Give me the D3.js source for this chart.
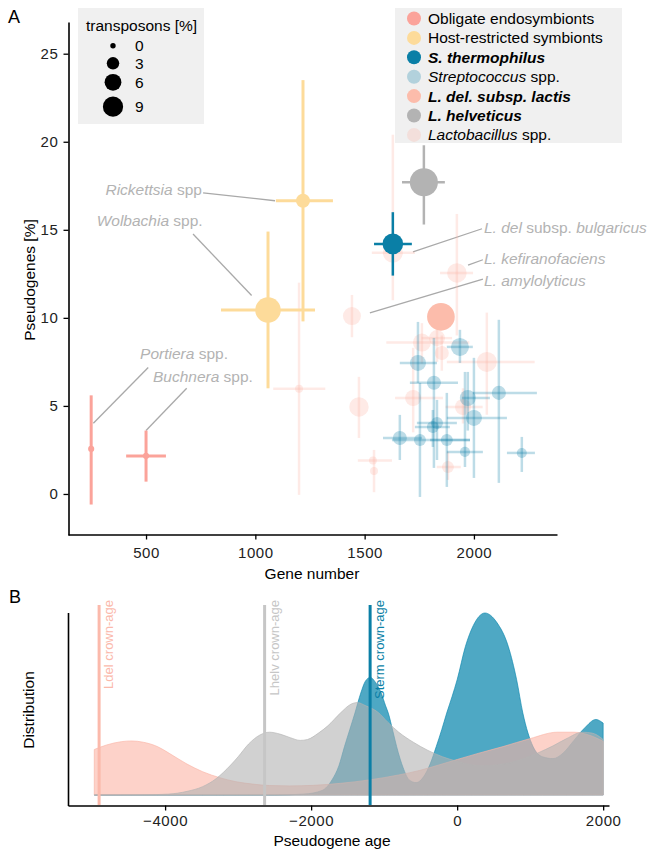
<!DOCTYPE html>
<html>
<head>
<meta charset="utf-8">
<script src="https://cdn.jsdelivr.net/npm/d3@7"></script>
<style>
  body { margin: 0; background: #fff; }
  svg text { font-family: "Liberation Sans", Arial, Helvetica, sans-serif; }
</style>
</head>
<body>
<svg id="chart" width="654" height="852"></svg>
<script>
// ---- panel A data ----
var groupNames = ["Obligate endosymbionts", "Host-restricted symbionts", "S. thermophilus",
  "Streptococcus spp.", "L. del. subsp. lactis", "L. helveticus", "Lactobacillus spp."];
var groupColors = ["#fba39a", "#fddb9a", "#0a7fa6", "#0a7fa6", "#fcbcab", "#b3b3b3", "#fbb4a5"];
var groupAlpha = [1, 1, 1, 0.27, 1, 1, 0.28];
var drawOrder = [6, 3, 0, 1, 4, 2, 5];

// one entry per genome / clade
var pointGroup = [0, 0, 1, 1, 2, 4, 5,
  6, 6, 6, 6, 6, 6, 6, 6, 6, 6, 6, 6, 6, 6,
  3, 3, 3, 3, 3, 3, 3, 3, 3, 3, 3, 3, 3];
var geneNumber = [249, 500, 1218, 1058, 1629, 1849, 1771,
  1629, 1922, 1442, 1474, 1538, 1543, 2059, 1762, 1722, 1950, 1881, 1200, 1831, 1853,
  1936, 1744, 1817, 2114, 1972, 2000, 1831, 1812, 1661, 1753, 1876, 1959, 2219];
var geneLow = [249, 409, 1094, 843, 1543, 1849, 1671,
  1533, 1845, 1442, 1474, 1469, 1543, 1876, 1599, 1639, 1870, 1830, 1082, 1760, 1853,
  1876, 1661, 1707, 1995, 1945, 1876, 1739, 1730, 1584, 1625, 1799, 1876, 2151];
var geneHigh = [249, 591, 1355, 1273, 1716, 1849, 1867,
  1730, 1996, 1442, 1474, 1625, 1543, 2278, 1979, 1858, 2040, 1940, 1320, 1900, 1853,
  1995, 1831, 1927, 2288, 2073, 2151, 1922, 1890, 1762, 1982, 1982, 2041, 2279];
var pseudogenes = [2.56, 2.16, 16.65, 10.45, 14.2, 10.06, 17.7,
  13.7, 12.55, 10.1, 4.94, 1.9, 1.3, 7.5, 8.6, 5.45, 4.94, 1.53, 5.97, 8.85, 8.0,
  8.35, 7.44, 6.31, 5.74, 5.45, 4.32, 4.03, 3.8, 3.18, 3.07, 3.07, 2.39, 2.33];
var pseudoLow = [-0.6, 0.7, 9.8, 6.0, 12.4, 10.06, 15.3,
  11.0, 9.0, 8.9, 3.18, 1.9, 0.1, 4.5, 7.4, 3.5, 4.0, 0.8, -0.05, 7.5, 7.0,
  7.44, 6.31, 1.48, 0.63, 3.6, 0.91, 1.93, 2.67, 1.93, -0.17, 0.4, 1.53, 1.25];
var pseudoHigh = [5.6, 3.6, 23.5, 14.9, 16.0, 10.06, 19.8,
  20.4, 15.9, 11.3, 6.65, 1.9, 2.5, 10.3, 9.7, 8.3, 6.0, 2.4, 12.0, 10.5, 9.0,
  9.32, 9.77, 8.86, 9.89, 6.93, 7.73, 5.34, 4.77, 4.49, 6.31, 5.74, 6.93, 3.24];
var transposons = [0.2, 0.2, 4, 14.8, 9.4, 17.5, 18,
  8.8, 8.3, 7, 8.3, 0.8, 0.8, 8.8, 7, 5.4, 5.4, 2.7, 0.8, 5.4, 4,
  7, 5.4, 4, 4, 5.4, 5.4, 2.7, 2.7, 4, 2.7, 2.7, 1.7, 1.7];
var sizeBreaks = [0, 3, 6, 9];
var geneTicks = [500, 1000, 1500, 2000];
var pseudoTicks = [0, 5, 10, 15, 20, 25];

// labelled taxa (text pieces: [text, italic])
var labelText = [
  [["Rickettsia", 1], [" spp", 0]],
  [["Wolbachia", 1], [" spp.", 0]],
  [["Portiera", 1], [" spp.", 0]],
  [["Buchnera", 1], [" spp.", 0]],
  [["L. del", 1], [" subsp. ", 0], ["bulgaricus", 1]],
  [["L. kefiranofaciens", 1]],
  [["L. amylolyticus", 1]]
];
var labelGene = [756, 759, 875, 989, 2046, 2046, 2046];
var labelPseudo = [16.96, 15.2, 7.67, 6.36, 14.8, 13.04, 11.8];
var labelAnchor = ["end", "end", "end", "end", "start", "start", "start"];
var segFrom = [[761, 17.1], [715, 14.76], [510, 7.18], [686, 6.0], [2037, 15.06], [2041, 13.3], [2041, 12.2]];
var segTo = [[1090, 16.65], [983, 11.27], [259, 4.02], [500, 3.6], [1721, 13.75], [1973, 13.0], [1524, 10.28]];

// ---- panel B data (density) ----
var ageTicks = [-4000, -2000, 0, 2000];
var ldelDensity = [[-4970, 0.25], [-4800, 0.275], [-4600, 0.293], [-4457, 0.297], [-4300, 0.29], [-4100, 0.265],
  [-3943, 0.229], [-3700, 0.17], [-3486, 0.128], [-3250, 0.095], [-3029, 0.073], [-2800, 0.06], [-2571, 0.052],
  [-2300, 0.05], [-1971, 0.053], [-1600, 0.064], [-1200, 0.083], [-800, 0.11], [-514, 0.135], [-250, 0.165],
  [0, 0.195], [300, 0.23], [629, 0.266], [1000, 0.31], [1371, 0.345], [1600, 0.345], [1800, 0.33], [2000, 0.295]];
var lhelvDensity = [[-4970, 0], [-4300, 0.001], [-3950, 0.005], [-3700, 0.02], [-3486, 0.046], [-3300, 0.09],
  [-3200, 0.125], [-3000, 0.21], [-2857, 0.28], [-2700, 0.33], [-2571, 0.345], [-2430, 0.335], [-2286, 0.315],
  [-2150, 0.3], [-2050, 0.305], [-1900, 0.34], [-1771, 0.38], [-1600, 0.45], [-1450, 0.5], [-1371, 0.508],
  [-1250, 0.49], [-1086, 0.455], [-950, 0.4], [-800, 0.345], [-600, 0.29], [-400, 0.245], [-200, 0.21],
  [0, 0.185], [200, 0.165], [343, 0.16], [550, 0.165], [750, 0.18], [914, 0.2], [1100, 0.23], [1314, 0.27],
  [1500, 0.31], [1714, 0.345], [1850, 0.34], [2000, 0.305]];
var stermDensity = [[-4970, 0], [-2500, 0], [-2100, 0.005], [-1850, 0.025], [-1714, 0.083], [-1620, 0.16],
  [-1543, 0.266], [-1470, 0.36], [-1400, 0.45], [-1320, 0.56], [-1257, 0.625], [-1190, 0.646], [-1120, 0.62],
  [-1040, 0.56], [-980, 0.49], [-943, 0.45], [-880, 0.35], [-829, 0.266], [-740, 0.15], [-657, 0.083],
  [-560, 0.068], [-460, 0.1], [-370, 0.17], [-286, 0.266], [-210, 0.36], [-143, 0.45], [-70, 0.54], [0, 0.633],
  [114, 0.817], [220, 0.93], [380, 1.0], [540, 0.95], [700, 0.817], [815, 0.633], [900, 0.45], [1040, 0.266],
  [1170, 0.21], [1314, 0.2], [1450, 0.23], [1600, 0.3], [1750, 0.37], [1900, 0.415], [2000, 0.395]];
var crownNames = ["Ldel crown-age", "Lhelv crown-age", "Sterm crown-age"];
var crownAge = [-4904, -2637, -1192];
var crownColors = ["#fbb9ab", "#c6c6c6", "#0a7fa6"];
var densityColors = ["#0a86ad", "#fbb4a5", "#b3b3b3"];

var svg = d3.select("#chart");
var fmt = d3.format("d");

// ================= panel A =================
var x = d3.scaleLinear().domain([143, 2380]).range([68, 557]);
var y = d3.scaleLinear().domain([-2.33, 26.8]).range([535, 22]);
var r = d3.scaleRadial().domain([0, 9]).range([2.7, 10.1]);

svg.append("text").attr("x", 8).attr("y", 23).style("font-size", "18px").text("A");

var xAxis = svg.append("g").attr("transform", "translate(0,534.5)")
  .call(d3.axisBottom(x).tickValues(geneTicks).tickFormat(fmt).tickSize(5).tickPadding(8).tickSizeOuter(0));
var yAxis = svg.append("g").attr("transform", "translate(68.5,0)")
  .call(d3.axisLeft(y).tickValues(pseudoTicks).tickFormat(fmt).tickSize(5).tickPadding(5).tickSizeOuter(0));
[xAxis, yAxis].forEach(function(a) {
  a.select(".domain").attr("stroke-width", 1.6);
  a.selectAll(".tick line").attr("stroke-width", 1.3);
  a.selectAll("text").style("font-size", "15px").attr("fill", "#222").style("letter-spacing", "0.6px");
});

svg.append("text").attr("x", 312).attr("y", 579).attr("text-anchor", "middle")
  .style("font-size", "15.5px").text("Gene number");
svg.append("text").attr("transform", "translate(35,280) rotate(-90)").attr("text-anchor", "middle")
  .style("font-size", "15.5px").text("Pseudogenes [%]");

// label segments under the points
var marks = svg.append("g");
marks.selectAll("line.seg").data(segFrom).enter().append("line")
  .attr("class", "seg")
  .attr("x1", function(d) { return x(d[0]); }).attr("y1", function(d) { return y(d[1]); })
  .attr("x2", function(d, i) { return x(segTo[i][0]); }).attr("y2", function(d, i) { return y(segTo[i][1]); })
  .attr("stroke", "#a9a9a9").attr("stroke-width", 1.3);

var idx = d3.range(pointGroup.length);
idx.sort(function(a, b) { return drawOrder.indexOf(pointGroup[a]) - drawOrder.indexOf(pointGroup[b]); });

idx.forEach(function(i) {
  var g = pointGroup[i];
  var col = groupColors[g], op = groupAlpha[g];
  var sw = (g === 0 || g === 1) ? 3 : 2.5;
  if (geneHigh[i] > geneLow[i]) {
    marks.append("line")
      .attr("x1", x(geneLow[i])).attr("x2", x(geneHigh[i]))
      .attr("y1", y(pseudogenes[i])).attr("y2", y(pseudogenes[i]))
      .attr("stroke", col).attr("stroke-opacity", op).attr("stroke-width", sw);
  }
  if (pseudoHigh[i] > pseudoLow[i]) {
    marks.append("line")
      .attr("x1", x(geneNumber[i])).attr("x2", x(geneNumber[i]))
      .attr("y1", y(pseudoLow[i])).attr("y2", y(pseudoHigh[i]))
      .attr("stroke", col).attr("stroke-opacity", op).attr("stroke-width", sw);
  }
  marks.append("circle")
    .attr("cx", x(geneNumber[i])).attr("cy", y(pseudogenes[i]))
    .attr("r", r(transposons[i]))
    .attr("fill", col).attr("fill-opacity", op);
});

// labels
var lab = svg.append("g").selectAll("text").data(labelText).enter().append("text")
  .attr("x", function(d, i) { return x(labelGene[i]); })
  .attr("y", function(d, i) { return y(labelPseudo[i]); })
  .attr("text-anchor", function(d, i) { return labelAnchor[i]; })
  .attr("fill", "#b3b3b3").style("font-size", "15.5px");
lab.selectAll("tspan").data(function(d) { return d; }).enter().append("tspan")
  .style("font-style", function(d) { return d[1] ? "italic" : "normal"; })
  .attr("xml:space", "preserve")
  .text(function(d) { return d[0]; });

// size legend
var sl = svg.append("g");
sl.append("rect").attr("x", 78).attr("y", 8).attr("width", 126).attr("height", 116).attr("fill", "#f0f0f0");
sl.append("text").attr("x", 86).attr("y", 31).style("font-size", "15.5px").text("transposons [%]");
var slY = [45.7, 63.3, 82.3, 106.7];
sizeBreaks.forEach(function(s, i) {
  sl.append("circle").attr("cx", 113).attr("cy", slY[i]).attr("r", r(s)).attr("fill", "#000");
  sl.append("text").attr("x", 135).attr("y", slY[i]).attr("dy", "0.36em").style("font-size", "15.5px").text(s);
});

// colour legend
var cl = svg.append("g");
cl.append("rect").attr("x", 395).attr("y", 8).attr("width", 227).attr("height", 135).attr("fill", "#f0f0f0");
var legendParts = [
  [["Obligate endosymbionts", ""]],
  [["Host-restricted symbionts", ""]],
  [["S. thermophilus", "bi"]],
  [["Streptococcus", "i"], [" spp.", ""]],
  [["L. del. subsp. lactis", "bi"]],
  [["L. helveticus", "bi"]],
  [["Lactobacillus", "i"], [" spp.", ""]]
];
groupNames.forEach(function(name, i) {
  var cy = 18.5 + i * 19.4;
  cl.append("circle").attr("cx", 414).attr("cy", cy).attr("r", 7)
    .attr("fill", groupColors[i]).attr("fill-opacity", groupAlpha[i]);
  var t = cl.append("text").attr("x", 428).attr("y", cy).attr("dy", "0.36em").style("font-size", "15.5px");
  legendParts[i].forEach(function(p) {
    t.append("tspan").attr("xml:space", "preserve")
      .style("font-style", p[1].indexOf("i") >= 0 ? "italic" : "normal")
      .style("font-weight", p[1].indexOf("b") >= 0 ? "bold" : "normal")
      .text(p[0]);
  });
});

// ================= panel B =================
var xb = d3.scaleLinear().domain([-5330, 2080]).range([68, 609]);
var yb = d3.scaleLinear().domain([0, 1]).range([795, 613]);

svg.append("text").attr("x", 9).attr("y", 603).style("font-size", "18px").text("B");

var area = d3.area()
  .x(function(d) { return xb(d[0]); })
  .y0(yb(0))
  .y1(function(d) { return yb(d[1]); })
  .curve(d3.curveMonotoneX);

[stermDensity, ldelDensity, lhelvDensity].forEach(function(dens, i) {
  svg.append("path").datum(dens).attr("d", area)
    .attr("fill", densityColors[i]).attr("fill-opacity", i === 0 ? 0.72 : 0.6)
    .attr("stroke", densityColors[i]).attr("stroke-opacity", 0.8).attr("stroke-width", 0.8);
});

crownAge.forEach(function(a, i) {
  svg.append("line").attr("x1", xb(a)).attr("x2", xb(a)).attr("y1", 605).attr("y2", 805)
    .attr("stroke", crownColors[i]).attr("stroke-width", 3);
  svg.append("text").attr("transform", "translate(" + (xb(a) + 14) + ",600) rotate(-90)")
    .attr("text-anchor", "end").attr("fill", crownColors[i]).style("font-size", "13px")
    .text(crownNames[i]);
});

var xbAxis = svg.append("g").attr("transform", "translate(0,805.5)")
  .call(d3.axisBottom(xb).tickValues(ageTicks).tickFormat(fmt).tickSize(5).tickPadding(5).tickSizeOuter(0));
xbAxis.select(".domain").attr("stroke-width", 1.6);
xbAxis.selectAll(".tick line").attr("stroke-width", 1.3);
xbAxis.selectAll("text").style("font-size", "15px").attr("fill", "#222").style("letter-spacing", "0.6px");

svg.append("line").attr("x1", 68.5).attr("x2", 68.5).attr("y1", 613).attr("y2", 806)
  .attr("stroke", "#000").attr("stroke-width", 1.6);

svg.append("text").attr("x", 332).attr("y", 846).attr("text-anchor", "middle")
  .style("font-size", "15.5px").text("Pseudogene age");
svg.append("text").attr("transform", "translate(34,710) rotate(-90)").attr("text-anchor", "middle")
  .style("font-size", "15.5px").text("Distribution");
</script>
</body>
</html>
